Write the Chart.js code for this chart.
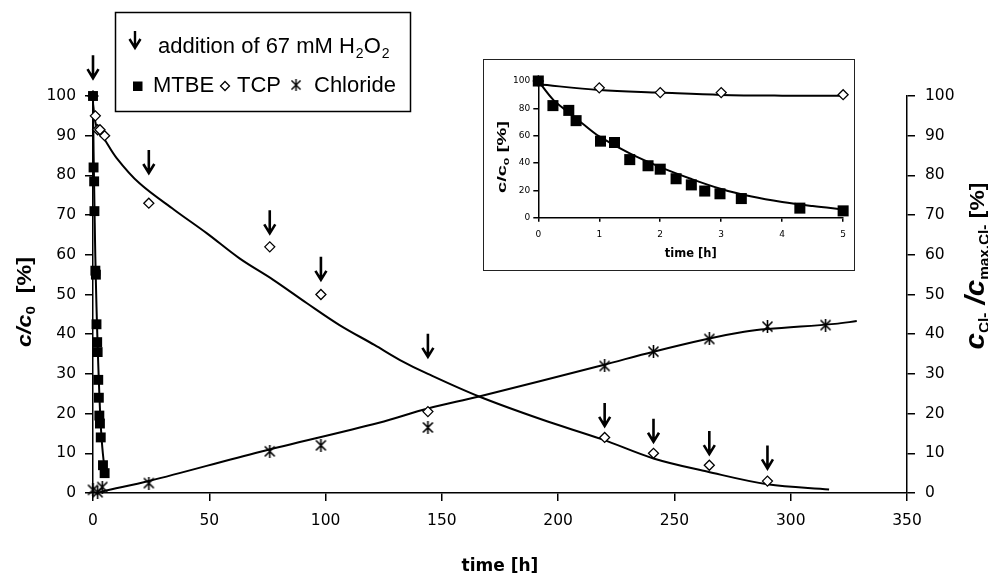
<!DOCTYPE html>
<html>
<head>
<meta charset="utf-8">
<script src="https://cdn.jsdelivr.net/npm/chart.js@4.4.0/dist/chart.umd.min.js"></script>
<style>
html,body{margin:0;padding:0;background:#fff;}
#wrap{position:relative;width:988px;height:575px;}
#insetBox{position:absolute;left:483px;top:59px;width:370px;height:210px;border:1px solid #222;background:#fff;}
</style>
</head>
<body>
<div id="wrap">
  <canvas id="mainChart" width="988" height="575"></canvas>
  <div id="insetBox"><canvas id="insetChart" width="370" height="210"></canvas></div>
</div>
<script>
// ---- data ----
const mtbeTime = [0,0.24,0.5,0.62,1.02,1.25,1.5,1.8,2.0,2.26,2.51,2.73,2.98,3.33,4.29,5.0];
const mtbeVal  = [100,82,78.5,71,56,55,42.5,38,35.5,28.5,24,19.5,17.5,14,7,5];
const mtbeFitTime = [0,0.25,0.5,0.75,1,1.5,2,2.5,3,3.5,4,4.5,5];
const mtbeFitVal  = [100,86,77,68,59.5,47,37,28.5,21,15.5,11.5,8.5,6];

const tcpTime = [0,1,2,3,5,24,76,98,144,220,241,265,290];
const tcpVal  = [100,95,91.5,91.5,90,73,62,50,20.5,14,10,7,3];
const tcpFitTime = [0,1,2,4.5,10,20,35,49,63,77.5,92,106,121,132,144,166,193,219,241,264,290,316.5];
const tcpFitVal  = [98,93.5,91.5,89.5,84.5,78,71.3,65.4,59.1,53.7,47.8,42.3,37.3,33.5,30,24.3,18.5,13.5,8.7,5.4,2.2,0.9];
const tcpInsetFitTime = [0,1,2,3,4,5];
const tcpInsetFitVal  = [97.6,93.4,91.5,89.8,89.3,89.3];

const chlTime = [0,2,4,24,76,98,144,220,241,265,290,315];
const chlVal  = [0.8,0.2,1.5,2.5,10.5,12,16.5,32,35.6,38.8,41.9,42.3];
const chlFitTime = [2,4,24,72,123,144,166,219,241,264,280,290,319,328.4];
const chlFitVal  = [0,0.4,3,10.4,17.7,21.3,24.3,32.2,35.6,38.8,40.6,41.3,42.6,43.3];

// H2O2 additions (time, arrow tip height in %)
const arrowTime = [0,24,76,98,144,220,241,265,290];
const arrowTip  = [104.5,80.6,65.4,53.7,34.3,16.9,12.9,9.8,6.2];

const xTicksMain = [0,350,50];
const yTicksMain = [0,100,10];
const xTicksInset = [0,5,1];
const yTicksInset = [0,100,20];

function pts(xs, ys){ return xs.map((x,i)=>({x:x, y:ys[i]})); }

// asterisk marker
function makeStar(s){
  let c = document.createElement('canvas');
  c.width = s; c.height = s;
  let g = c.getContext('2d');
  g.strokeStyle = '#000'; g.lineWidth = 1.6;
  g.beginPath();
  g.moveTo(1.5,1.5); g.lineTo(s-1.5,s-1.5);
  g.moveTo(s-1.5,1.5); g.lineTo(1.5,s-1.5);
  g.moveTo(s/2,0); g.lineTo(s/2,s);
  g.stroke();
  return c;
}
const starImg = makeStar(13);

// rotated rich text (subscripts), x,y = centre on baseline
function drawRich(ctx, parts, x, y, len){
  let w = 0;
  parts.forEach(p=>{ ctx.font = p.font; p.w = ctx.measureText(p.t).width; w += p.w; });
  let k = len / w;
  ctx.save();
  ctx.translate(x, y);
  ctx.rotate(-Math.PI/2);
  ctx.scale(k, 1);
  ctx.fillStyle = '#000';
  ctx.textBaseline = 'alphabetic';
  ctx.textAlign = 'left';
  let cx = -w/2;
  parts.forEach(p=>{ ctx.font = p.font; ctx.fillText(p.t, cx, p.dy || 0); cx += p.w; });
  ctx.restore();
}

function arrow(ctx, x, yTip, len){
  ctx.beginPath();
  ctx.moveTo(x, yTip - len); ctx.lineTo(x, yTip - 1);
  ctx.moveTo(x - 5.5, yTip - 9); ctx.lineTo(x, yTip); ctx.lineTo(x + 5.5, yTip - 9);
  ctx.stroke();
}

function axisOpts(fontSize, tickLen, pad){
  return {
    type:'linear',
    border:{display:true, color:'#000', width:1.5},
    grid:{display:true, drawOnChartArea:false, drawTicks:true, tickLength:tickLen, color:'#000', lineWidth:1.5},
    ticks:{color:'#000', font:{family:'DejaVu Sans', size:fontSize}, padding:pad}
  };
}

// ---- main chart extras ----
const mainExtras = {
  id:'mainExtras',
  afterDatasetsDraw(chart){
    const ctx = chart.ctx;
    const xs = chart.scales.x, ys = chart.scales.y;
    ctx.save();
    ctx.strokeStyle = '#000'; ctx.lineWidth = 2.6;
    arrowTime.forEach((t,i)=>{
      arrow(ctx, xs.getPixelForValue(t), ys.getPixelForValue(arrowTip[i]), 23);
    });
    ctx.restore();
  },
  afterDraw(chart){
    const ctx = chart.ctx;
    ctx.save();
    // legend box
    ctx.fillStyle = '#fff';
    ctx.fillRect(115, 12, 296, 100);
    ctx.strokeStyle = '#000'; ctx.lineWidth = 1.5;
    ctx.strokeRect(115.5, 12.5, 295, 99);
    ctx.fillStyle = '#000';
    ctx.textBaseline = 'alphabetic'; ctx.textAlign = 'left';
    ctx.lineWidth = 2.4;
    arrow(ctx, 135, 48, 17);
    ctx.font = '22px "Liberation Sans", Arial, sans-serif';
    ctx.fillText('addition of 67 mM H', 158, 53);
    let cx = 158 + ctx.measureText('addition of 67 mM H').width + 1;
    ctx.font = '14px "Liberation Sans", Arial, sans-serif';
    ctx.fillText('2', cx, 58); cx += ctx.measureText('2').width;
    ctx.font = '22px "Liberation Sans", Arial, sans-serif';
    ctx.fillText('O', cx, 53); cx += ctx.measureText('O').width + 1;
    ctx.font = '14px "Liberation Sans", Arial, sans-serif';
    ctx.fillText('2', cx, 58);

    ctx.font = '22px "Liberation Sans", Arial, sans-serif';
    ctx.fillRect(133, 81.5, 9.5, 9.5);
    ctx.fillText('MTBE', 153, 92);
    ctx.lineWidth = 1.3;
    ctx.beginPath();
    ctx.moveTo(225, 81.5); ctx.lineTo(229.5, 86); ctx.lineTo(225, 90.5); ctx.lineTo(220.5, 86); ctx.closePath();
    ctx.stroke();
    ctx.fillText('TCP', 237, 92);
    ctx.drawImage(starImg, 290, 79, 12, 12);
    ctx.fillText('Chloride', 314, 92);

    // axis titles with subscripts
    const bi = s => 'italic bold ' + s + 'px "Liberation Sans", Arial, sans-serif';
    const b = s => 'bold ' + s + 'px "Liberation Sans", Arial, sans-serif';
    drawRich(ctx, [
      {t:'c/c', font:bi(20)},
      {t:'0', font:b(13), dy:4},
      {t:'  [%]', font:b(20)}
    ], 31, 302, 90);
    drawRich(ctx, [
      {t:'c', font:bi(27)},
      {t:'Cl-', font:b(14), dy:5},
      {t:' /', font:bi(27)},
      {t:'c', font:bi(27)},
      {t:'max.Cl-', font:b(14), dy:5},
      {t:' [%]', font:b(21)}
    ], 984, 266, 167);
    ctx.restore();
  }
};

const mx = axisOpts(15.5, 8, 11);
mx.min = xTicksMain[0]; mx.max = xTicksMain[1]; mx.ticks.stepSize = xTicksMain[2];
mx.afterFit = s => { s.height = 82; };
mx.title = {display:true, text:'time [h]', color:'#000', font:{family:'DejaVu Sans', size:17, weight:'bold', lineHeight:1.2}, padding:{top:0, bottom:-2}};

const my = axisOpts(15.5, 8, 9);
my.position = 'left';
my.min = yTicksMain[0]; my.max = yTicksMain[1]; my.ticks.stepSize = yTicksMain[2];
my.afterFit = s => { s.width = 93; };

const my2 = axisOpts(15.5, 8, 10);
my2.position = 'right';
my2.min = yTicksMain[0]; my2.max = yTicksMain[1]; my2.ticks.stepSize = yTicksMain[2];
my2.afterFit = s => { s.width = 81; };

const lineDs = (data, axis) => ({
  data:data, yAxisID:axis, showLine:true, pointRadius:0, borderColor:'#000', borderWidth:2,
  tension:0.35, fill:false, clip:false
});

new Chart(document.getElementById('mainChart'), {
  type:'scatter',
  data:{
    datasets:[
      {label:'MTBE', data:pts(mtbeTime, mtbeVal), yAxisID:'y', pointStyle:'rect', pointRadius:7,
       backgroundColor:'#000', borderColor:'#000', borderWidth:0, clip:false},
      {label:'TCP', data:pts(tcpTime, tcpVal), yAxisID:'y', pointStyle:'rectRot', pointRadius:5,
       backgroundColor:'#fff', borderColor:'#000', borderWidth:1.3, clip:false},
      {label:'Chloride', data:pts(chlTime, chlVal), yAxisID:'y2', pointStyle:starImg, pointRadius:6, clip:false},
      lineDs(pts(mtbeFitTime, mtbeFitVal), 'y'),
      lineDs(pts(tcpFitTime, tcpFitVal), 'y'),
      lineDs(pts(chlFitTime, chlFitVal), 'y2')
    ]
  },
  options:{
    responsive:false, animation:false, devicePixelRatio:1,
    layout:{padding:{top:96, left:0, right:0, bottom:0}},
    plugins:{legend:{display:false}, tooltip:{enabled:false}},
    scales:{x:mx, y:my, y2:my2}
  },
  plugins:[mainExtras]
});

// ---- inset ----
const insetExtras = {
  id:'insetExtras',
  afterDraw(chart){
    const ctx = chart.ctx;
    drawRich(ctx, [
      {t:'c/c', font:'bold 12px "Liberation Sans", Arial, sans-serif'},
      {t:'0', font:'bold 8px "Liberation Sans", Arial, sans-serif', dy:2.5},
      {t:' [%]', font:'bold 12px "Liberation Sans", Arial, sans-serif'}
    ], 22, 97, 72);
  }
};

const ix = axisOpts(9, 4, 8);
ix.min = xTicksInset[0]; ix.max = xTicksInset[1]; ix.ticks.stepSize = xTicksInset[2];
ix.afterFit = s => { s.height = 52.3; };
ix.title = {display:true, text:'time [h]', color:'#000', font:{family:'DejaVu Sans', size:11.5, weight:'bold', lineHeight:1.2}, padding:{top:0, bottom:9}};

const iy = axisOpts(9, 5, 3);
iy.position = 'left';
iy.min = yTicksInset[0]; iy.max = yTicksInset[1]; iy.ticks.stepSize = yTicksInset[2];
iy.afterFit = s => { s.width = 54.3; };

new Chart(document.getElementById('insetChart'), {
  type:'scatter',
  data:{
    datasets:[
      {data:pts(mtbeTime, mtbeVal), pointStyle:'rect', pointRadius:7.8,
       backgroundColor:'#000', borderColor:'#000', borderWidth:0, clip:false},
      {data:pts(tcpTime.slice(0,5), tcpVal.slice(0,5)), pointStyle:'rectRot', pointRadius:5,
       backgroundColor:'#fff', borderColor:'#000', borderWidth:1.3, clip:false},
      lineDs(pts(mtbeFitTime, mtbeFitVal), 'y'),
      lineDs(pts(tcpInsetFitTime, tcpInsetFitVal), 'y')
    ]
  },
  options:{
    responsive:false, animation:false, devicePixelRatio:1,
    layout:{padding:{top:21, left:0, right:5.7, bottom:0}},
    plugins:{legend:{display:false}, tooltip:{enabled:false}},
    scales:{x:ix, y:iy}
  },
  plugins:[insetExtras]
});
</script>
</body>
</html>
